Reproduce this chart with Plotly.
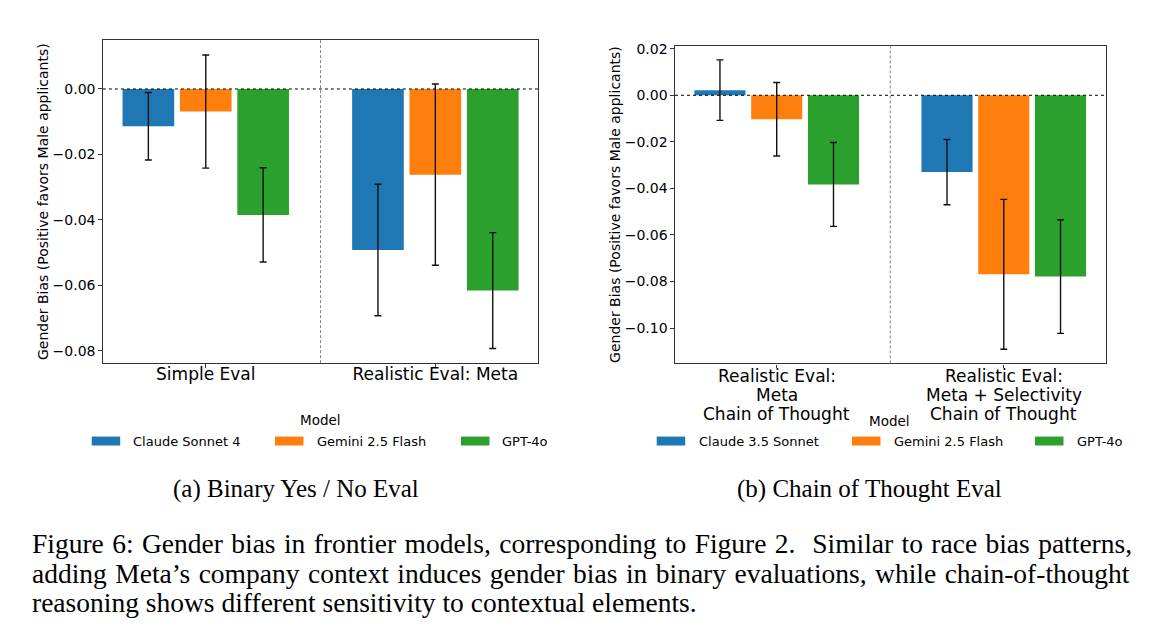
import plotly.graph_objects as go
from plotly.subplots import make_subplots

# ---- data ----
colors = ['#1f77b4', '#ff7f0e', '#2ca02c']

cats_a = ['Simple Eval', 'Realistic Eval: Meta']
models_a = ['Claude Sonnet 4', 'Gemini 2.5 Flash', 'GPT-4o']
bias_a = [[-0.0114, -0.0492], [-0.0069, -0.0262], [-0.0385, -0.0616]]
err_a = [[0.0103, 0.0201], [0.0173, 0.0277], [0.0144, 0.0177]]

cats_b = ['Realistic Eval:<br>Meta<br>Chain of Thought',
          'Realistic Eval:<br>Meta + Selectivity<br>Chain of Thought']
models_b = ['Claude 3.5 Sonnet', 'Gemini 2.5 Flash', 'GPT-4o']
bias_b = [[0.0022, -0.0330], [-0.0103, -0.0769], [-0.0383, -0.0779]]
err_b = [[0.0130, 0.0140], [0.0158, 0.0322], [0.0180, 0.0244]]

sub_captions = ['(a) Binary Yes / No Eval', '(b) Chain of Thought Eval']
caption_lines = [
    'Figure 6: Gender bias in frontier models, corresponding to Figure 2.  Similar to race bias patterns,',
    'adding Meta\u2019s company context induces gender bias in binary evaluations, while chain-of-thought',
    'reasoning shows different sensitivity to contextual elements.',
]
# extra word spacing (px) to mimic the justified paragraph
caption_spacing = [1.5, 1.6, 0]
ylabel = 'Gender Bias (Positive favors Male applicants)'

W, H = 1164, 634
FONT = 'DejaVu Sans'
SERIF = 'Liberation Serif, Times New Roman, serif'

fig = make_subplots(rows=1, cols=2)

for col, (cats, models, bias, err) in enumerate(
        [(cats_a, models_a, bias_a, err_a), (cats_b, models_b, bias_b, err_b)], start=1):
    for i, m in enumerate(models):
        fig.add_trace(go.Bar(
            x=cats, y=bias[i], name=m, marker_color=colors[i], marker_line_width=0,
            error_y=dict(type='data', array=err[i], visible=True, color='#111',
                         thickness=1.4, width=3.5),
            showlegend=False,
        ), row=1, col=col)

# axes placement (pixels -> paper)
dom_a = [102.9 / W, 538.2 / W]
dom_b = [675.0 / W, 1105.5 / W]
ax_common = dict(showline=True, linecolor='#333', linewidth=1.2, mirror=True,
                 ticks='outside', ticklen=3.5, tickcolor='#333', showgrid=False,
                 zeroline=False)

fig.update_xaxes(**ax_common, tickfont=dict(family=FONT, size=17, color='black'),
                 range=[-0.448, 1.448], ticklabelstandoff=-8)
fig.update_yaxes(**ax_common, tickfont=dict(family=FONT, size=14, color='black'),
                 tickformat='.2f', dtick=0.02,
                 title=dict(text=ylabel, font=dict(family=FONT, size=14, color='black'),
                            standoff=0))
fig.update_xaxes(domain=dom_a, row=1, col=1)
fig.update_xaxes(domain=dom_b, showticklabels=False, row=1, col=2)
fig.update_yaxes(domain=[1 - 361 / H, 1 - 35.5 / H], range=[-0.0838, 0.0149], row=1, col=1)
fig.update_yaxes(domain=[1 - 361.3 / H, 1 - 41 / H], range=[-0.1152, 0.0213], row=1, col=2)

# right panel category labels: written line by line to keep the tight line spacing
for c in cats_b:
    for k, line in enumerate(c.split('<br>')):
        fig.add_annotation(x=c, y=1 - (374 + 19 * k) / H, xref='x2', yref='paper', text=line,
                           showarrow=False, xanchor='center', yanchor='middle',
                           font=dict(family=FONT, size=17, color='black'))

# reference lines
for xr, yr in [('x', 'y'), ('x2', 'y2')]:
    fig.add_shape(type='line', xref=xr + ' domain', yref=yr, x0=0, x1=1, y0=0, y1=0,
                  line=dict(color='black', width=1, dash='dot'), layer='above')
    fig.add_shape(type='line', xref=xr, yref=yr + ' domain', x0=0.5, x1=0.5, y0=0, y1=1,
                  line=dict(color='gray', width=1, dash='3px,2px'), layer='above')

# hand-made legends (swatch left edge, text left edge in px)
legend_spots = [
    (320, 418, [(91.7, 131), (275, 315), (461, 500)], models_a),
    (890, 419, [(656.7, 696.7), (852, 891.7), (1035, 1075)], models_b),
]
for cx, ty, spots, models in legend_spots:
    fig.add_annotation(x=cx / W, y=1 - ty / H, xref='paper', yref='paper', text='Model',
                       showarrow=False, xanchor='center', yanchor='middle',
                       font=dict(family=FONT, size=13.5, color='black'))
    for i, (sx, tx) in enumerate(spots):
        fig.add_shape(type='rect', xref='paper', yref='paper',
                      x0=sx / W, x1=(sx + 28.5) / W, y0=1 - 444 / H, y1=1 - 435 / H,
                      fillcolor=colors[i], line_width=0)
        fig.add_annotation(x=tx / W, y=1 - 439.5 / H, xref='paper', yref='paper', text=models[i],
                           showarrow=False, xanchor='left', yanchor='middle',
                           font=dict(family=FONT, size=13, color='black'))

# sub captions
for cx, txt in zip([295.5, 869.5], sub_captions):
    fig.add_annotation(x=cx / W, y=1 - 487.5 / H, xref='paper', yref='paper', text=txt,
                       showarrow=False, xanchor='center', yanchor='middle',
                       font=dict(family=SERIF, size=25, color='black'))

# figure caption
for cy, txt, sp in zip([543, 573, 602], caption_lines, caption_spacing):
    if sp:
        txt = '<span style="word-spacing:%gpx">%s</span>' % (sp, txt)
    fig.add_annotation(x=30 / W, y=1 - cy / H, xref='paper', yref='paper', text=txt,
                       showarrow=False, xanchor='left', yanchor='middle',
                       font=dict(family=SERIF, size=27.5, color='black'))

fig.update_layout(
    width=W, height=H, margin=dict(l=0, r=0, t=0, b=0),
    barmode='group', bargap=0.25, bargroupgap=0.1,
    plot_bgcolor='white', paper_bgcolor='white',
    font=dict(family=FONT, color='black'),
)

# drop the browser's default body margin so the page lines up with the window
fig.write_html('out.html', config={'displayModeBar': False},
               post_script="document.body.style.margin = '0px';")
